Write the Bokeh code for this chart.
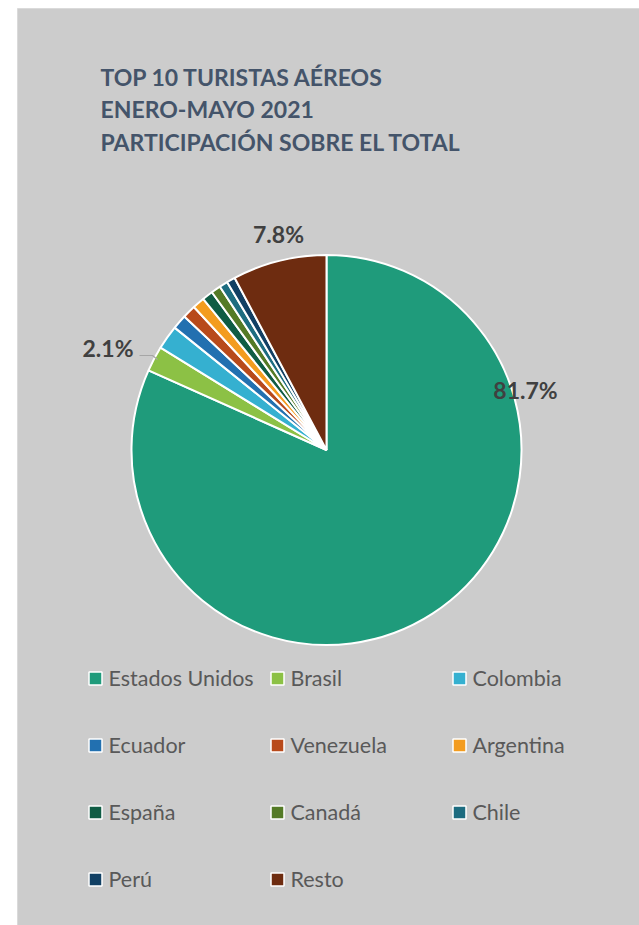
import numpy as np
from bokeh.plotting import figure
from bokeh.models import Range1d, ColumnDataSource
from bokeh.core.properties import value
from bokeh.embed import file_html
from bokeh.resources import INLINE

# ---- data ----
categories = ["Estados Unidos", "Brasil", "Colombia", "Ecuador", "Venezuela",
              "Argentina", "España", "Canadá", "Chile", "Perú", "Resto"]
shares = [81.7, 2.1, 2.0, 1.2, 1.1, 1.0, 0.9, 0.8, 0.7, 0.7, 7.8]
colors = ["#1F9B7B", "#8CC145", "#35B0D0", "#2270B0", "#B84A1B", "#F39C1F",
          "#0F5C44", "#547A26", "#1D6C80", "#114064", "#6E2C10"]
title_lines = ["TOP 10 TURISTAS AÉREOS", "ENERO-MAYO 2021", "PARTICIPACIÓN SOBRE EL TOTAL"]
labeled = ["Estados Unidos", "Brasil", "Resto"]

W, H = 639, 925
p = figure(width=W, height=H, output_backend="svg", toolbar_location=None,
           x_range=Range1d(0, W), y_range=Range1d(-H, 0),
           min_border=0, outline_line_color=None,
           background_fill_color="white", border_fill_color="white")
p.axis.visible = False
p.grid.visible = False

# chart background
p.quad(left=17, right=700, top=-8, bottom=-1000, fill_color="#CCCCCC",
       line_color="#DADADA", line_width=1)

# pie
cx, cy, r = 326, -449.5, 195
vals = np.array(shares, dtype=float)
frac = vals / vals.sum()
cum = np.concatenate([[0], np.cumsum(frac)])
start = np.pi / 2 - 2 * np.pi * cum[:-1]
end = np.pi / 2 - 2 * np.pi * cum[1:]
src = ColumnDataSource(dict(start=start, end=end, color=colors, cat=categories))
p.wedge(x=cx, y=cy, radius=r, start_angle="start", end_angle="end",
        direction="clock", fill_color="color", line_color="white",
        line_width=2, source=src)

# title
for i, t in enumerate(title_lines):
    p.text(x=[100], y=[-(76 + 32.5 * i)], text=[t], text_font=value("Lato"),
           text_font_style="bold", text_font_size="23px", text_color="#44546A",
           text_align="left", text_baseline="alphabetic")

# data labels (anchor positions chosen as layout)
label_pos = {"Estados Unidos": (525, -389), "Brasil": (107.5, -347), "Resto": (278, -233)}
for c in labeled:
    v = shares[categories.index(c)]
    x, y = label_pos[c]
    p.text(x=[x], y=[y], text=[f"{v:.1f}%"], text_font=value("Lato"),
           text_font_style="bold", text_font_size="23px", text_color="#404040",
           text_align="center", text_baseline="alphabetic")
# leader line for Brasil
p.line(x=[139, 152, 157], y=[-355, -355, -359], line_color="#A6A6A6", line_width=1.2)

# legend
col_x = [95, 277, 459]
row_y = [-678, -745, -812, -879]
for i, (c, col) in enumerate(zip(categories, colors)):
    x = col_x[i % 3]
    y = row_y[i // 3]
    p.rect(x=[x], y=[y], width=13, height=13, fill_color=col,
           line_color="white", line_width=1.5)
    p.text(x=[x + 13], y=[y + 1], text=[c], text_font=value("Lato"),
           text_font_size="21.5px", text_color="#595959",
           text_align="left", text_baseline="alphabetic")

open("out.html", "w").write(file_html(p, INLINE))
